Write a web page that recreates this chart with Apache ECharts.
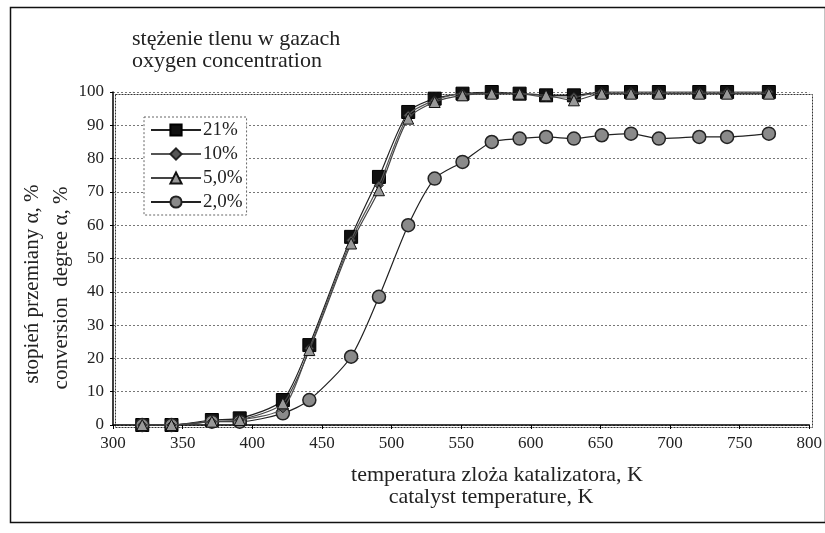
<!DOCTYPE html>
<html>
<head>
<meta charset="utf-8">
<script src="https://cdn.jsdelivr.net/npm/echarts@6/dist/echarts.min.js"></script>
<style>html,body{margin:0;padding:0;background:#fff}#c{width:825px;height:533px}</style>
</head>
<body>
<div id="c"></div>
<script>
const temps = [321, 342, 371, 391, 422, 441, 471, 491, 512, 531, 551, 572, 592, 611, 631, 651, 672, 692, 721, 741, 771];
const o21 = [0, 0, 1.5, 2, 7.5, 24, 56.5, 74.5, 94, 98, 99.5, 100, 99.5, 99, 99, 100, 100, 100, 100, 100, 100];
const o10 = [0, 0, 1, 1.5, 5, 23, 55.5, 72, 93, 97.5, 99.5, 99.5, 99.5, 98.5, 98.5, 100, 100, 100, 100, 100, 100];
const o5 = [0, 0, 1, 1.5, 6.5, 22.5, 54.5, 70.5, 92, 97, 99, 99.5, 99.5, 99, 97.5, 99.5, 99.5, 99.5, 99.5, 99.5, 99.5];
const o2 = [0, 0, 1, 1, 3.5, 7.5, 20.5, 38.5, 60, 74, 79, 85, 86, 86.5, 86, 87, 87.5, 86, 86.5, 86.5, 87.5];
const names = ['21%', '10%', '5,0%', '2,0%'];
const xTicks = [300, 350, 400, 450, 500, 550, 600, 650, 700, 750, 800];
const yTicks = [0, 10, 20, 30, 40, 50, 60, 70, 80, 90, 100];

const pairs = arr => temps.map((t, i) => [t, arr[i]]);
const serif = '"Liberation Serif", "DejaVu Serif", serif';

const chart = echarts.init(document.getElementById('c'));
chart.setOption({
  animation: false,
  backgroundColor: '#fff',
  textStyle: { fontFamily: serif },
  grid: { left: 113, right: 15, top: 92, bottom: 108, show: false },
  xAxis: {
    type: 'value', min: xTicks[0], max: xTicks[xTicks.length - 1], interval: 50,
    axisLine: { show: true, lineStyle: { color: '#000', width: 1.5 } },
    axisTick: { show: true, length: 4, lineStyle: { color: '#000' } },
    axisLabel: { color: '#222', fontSize: 17, fontFamily: serif, margin: 10 },
    splitLine: { show: false }
  },
  yAxis: {
    type: 'value', min: yTicks[0], max: yTicks[yTicks.length - 1], interval: 10,
    axisLine: { show: true, lineStyle: { color: '#000', width: 1.5 } },
    axisTick: { show: true, length: 3, lineStyle: { color: '#000' } },
    axisLabel: { color: '#222', fontSize: 17, fontFamily: serif, margin: 9 },
    splitLine: { show: true, lineStyle: { color: '#777', type: [2, 2], width: 1 } }
  },
  legend: {
    orient: 'vertical', left: 144, top: 117,
    data: names,
    itemWidth: 50, itemHeight: 14, itemGap: 4,
    padding: [3, 4, 3, 6],
    borderColor: '#666', borderWidth: 1, borderType: [2, 2],
    backgroundColor: '#fff',
    textStyle: { fontFamily: serif, fontSize: 19, lineHeight: 20, color: '#222', padding: [0, 0, 0, -3] }
  },
  series: [
    {
      name: names[0], type: 'line', data: pairs(o21), smooth: 0.25,
      symbol: 'rect', symbolSize: 13,
      lineStyle: { color: '#222', width: 1.2 },
      itemStyle: { color: '#111', borderColor: '#000', borderWidth: 1 }, z: 3
    },
    {
      name: names[1], type: 'line', data: pairs(o10), smooth: 0.25,
      symbol: 'diamond', symbolSize: 9,
      lineStyle: { color: '#555', width: 1.2 },
      itemStyle: { color: '#555', borderColor: '#222', borderWidth: 1 }, z: 4
    },
    {
      name: names[2], type: 'line', data: pairs(o5), smooth: 0.25,
      symbol: 'triangle', symbolSize: 11,
      lineStyle: { color: '#444', width: 1.2 },
      itemStyle: { color: '#999', borderColor: '#111', borderWidth: 1 }, z: 5
    },
    {
      name: names[3], type: 'line', data: pairs(o2), smooth: 0.25,
      symbol: 'circle', symbolSize: 13,
      lineStyle: { color: '#222', width: 1.2 },
      itemStyle: { color: '#8a8a8a', borderColor: '#222', borderWidth: 1.5 }, z: 3
    }
  ],
  graphic: [
    { type: 'rect', left: 8, top: 5, silent: true, z: -1,
      shape: { width: 815, height: 515 },
      style: { fill: 'none', stroke: '#111', lineWidth: 1.5 } },
    { type: 'rect', left: 113, top: 92, silent: true, z: -1,
      shape: { width: 697, height: 333 },
      style: { fill: 'none', stroke: '#333', lineWidth: 1, lineDash: [2, 1] } },
    { type: 'text',
      style: { text: 'stężenie tlenu w gazach\noxygen concentration', font: '22px ' + serif, fill: '#222', lineHeight: 22, align: 'left', verticalAlign: 'top' },
      x: 132, y: 28 },
    { type: 'text',
      style: { text: 'stopień przemiany α, %', font: '21px ' + serif, fill: '#222', align: 'center', verticalAlign: 'middle' },
      rotation: Math.PI / 2, x: 32, y: 284 },
    { type: 'text',
      style: { text: 'conversion  degree α, %', font: '21px ' + serif, fill: '#222', align: 'center', verticalAlign: 'middle' },
      rotation: Math.PI / 2, x: 61, y: 288 },
    { type: 'text',
      style: { text: 'temperatura zloża katalizatora, K', font: '22px ' + serif, fill: '#222', align: 'center', verticalAlign: 'middle' },
      x: 497, y: 475 },
    { type: 'text',
      style: { text: 'catalyst temperature, K', font: '22px ' + serif, fill: '#222', align: 'center', verticalAlign: 'middle' },
      x: 491, y: 497 }
  ]
});
</script>
</body>
</html>
